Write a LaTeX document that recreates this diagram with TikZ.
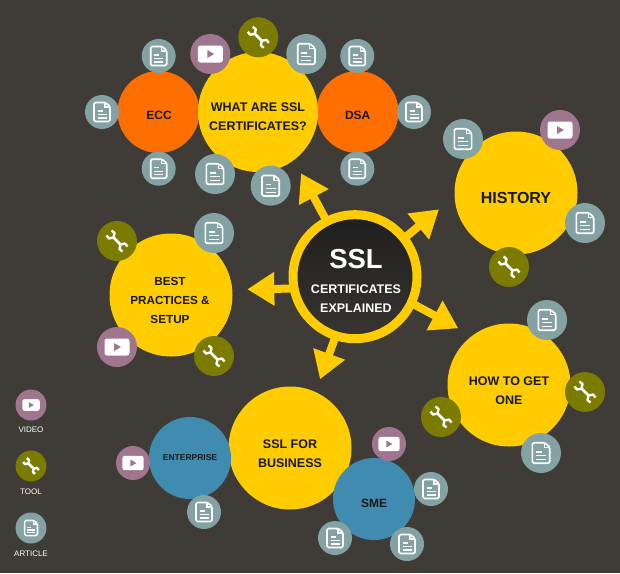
\documentclass[tikz,border=0pt]{standalone}
\usepackage{fontspec}
\setmainfont{Liberation Sans}
\usepackage{xcolor}
\usetikzlibrary{arrows.meta, shadings}

\definecolor{bgcolor}{HTML}{3F3B37}
\definecolor{topiccolor}{HTML}{FFCC00}
\definecolor{subcolor}{HTML}{FF6F00}
\definecolor{bluecolor}{HTML}{3F8CB0}
\definecolor{articlecolor}{HTML}{84A2A3}
\definecolor{videocolor}{HTML}{A0768F}
\definecolor{toolcolor}{HTML}{7B7B00}

\tikzset{
  disc/.style={circle, inner sep=0pt, outer sep=0pt},
  topic/.style={disc, fill=topiccolor, minimum size=#1},
  topic/.default=123,
  subtopic/.style={disc, fill=#1, minimum size=82},
  resource/.style={disc, fill=#1, minimum size=34},
  bigres/.style={disc, fill=#1, minimum size=40},
  legendres/.style={disc, fill=#1, minimum size=31},
  topictext/.style={font=\bfseries\fontsize{#1}{19}\selectfont, align=center, text=black!90, inner sep=0pt},
  topictext/.default=12.5,
  legendtext/.style={font=\fontsize{8}{9}\selectfont, text=white, inner sep=0pt},
  spoke/.style={topiccolor, line width=8, shorten <=-3, -{Triangle[length=27, width=32]}},
  pics/articleicon/.style={code={
    \draw[white, line width=1.7, line join=round, rounded corners=1.5]
      (-8,-9.5) -- (3.5,-9.5) -- (8,-5.5) -- (8,9.5) -- (-8,9.5) -- cycle;
    \draw[white, line width=1.2] (3,-9.5) -- (3,-5) -- (8,-5);
    \draw[white, line width=1.2] (-4.5,-1) -- (0.5,-1) (-4.5,2.5) -- (4.5,2.5) (-4.5,6) -- (4.5,6);
  }},
  pics/videoicon/.style={code={
    \fill[white, rounded corners=2.5] (-12.5,-8.5) rectangle (12.5,8.5);
    \fill[videocolor] (-3,-4) -- (4,0) -- (-3,4) -- cycle;
  }},
  pics/toolicon/.style={code={
    \draw[white, line width=2.6] (-3.5,-3.5) -- (3.5,3.5);
    \draw[white, line width=2.4, line join=round]
      (-10.5,-5.5) -- (-8,-2.5) -- (-3.5,-3.5) -- (-2.5,-8) -- (-5.5,-10.5)
      (10.5,5.5) -- (8,2.5) -- (3.5,3.5) -- (2.5,8) -- (5.5,10.5);
  }},
}

\begin{document}
\begin{tikzpicture}[x=1pt, y=-1pt]
\useasboundingbox (0,0) rectangle (620,573);
\fill[bgcolor] (0,0) rectangle (620,573);

% Hub and its arrows
\node[disc, minimum size=124, draw=topiccolor, line width=9, top color=black!88, bottom color=bgcolor!90!black] (hub) at (355,276.7) {};
\node[font=\bfseries\fontsize{27.5}{32}\selectfont, text=white, inner sep=0pt] (ssl) at (356,259) {SSL};
\node[font=\bfseries\fontsize{12.5}{19}\selectfont, text=white, align=center, inner sep=0pt] (explained) at (356,298.5) {CERTIFICATES\\EXPLAINED};
\coordinate (tipwhat) at (301,173.3);
\coordinate (tiphistory) at (439,209.3);
\coordinate (tipbest) at (247.3,289.3);
\coordinate (tiphow) at (458.3,328.3);
\coordinate (tipbusiness) at (320,379.3);
\draw[spoke] (hub.117) -- (tipwhat);
\draw[spoke] (hub.38) -- (tiphistory);
\draw[spoke] (hub.191) -- (tipbest);
\draw[spoke] (hub.-25) -- (tiphow);
\draw[spoke] (hub.-108) -- (tipbusiness);

% Topics
\node[subtopic=subcolor] (ecc) at (158.5,112) {};
\node[subtopic=subcolor] (dsa) at (357.5,112) {};
\node[topic=120] (what) at (258,112) {};
\node[topic] (history) at (516,193) {};
\node[topic] (best) at (171,295) {};
\node[topic] (how) at (509,385) {};
\node[topic] (business) at (290,448) {};
\node[subtopic=bluecolor] (enterprise) at (190,458) {};
\node[subtopic=bluecolor] (sme) at (374,499) {};

\node[topictext] (whattext) at (258,116.6) {WHAT ARE SSL\\CERTIFICATES?};
\node[topictext=12] (ecctext) at (159,115.7) {ECC};
\node[topictext=12] (dsatext) at (357.7,115.7) {DSA};
\node[topictext=16] (historytext) at (516,198) {HISTORY};
\node[topictext=11.7] (besttext) at (170,300) {BEST\\PRACTICES \&\\SETUP};
\node[topictext] (howtext) at (509,390.5) {HOW TO GET\\ONE};
\node[topictext=12.5] (businesstext) at (290,453.5) {SSL FOR\\BUSINESS};
\node[topictext=8.5] (enterprisetext) at (190,458) {ENTERPRISE};
\node[topictext=12] (smetext) at (374,503) {SME};

% Small resources
\foreach \nm/\px/\py in {ae/158.7/56, af/102/112, ag/158.7/168.7, ah/357.3/56, ai/414/112, aj/357.3/168.7, ak/204/512, al/431/489, am/335/538, an/407/544} {
  \node[resource=articlecolor] (\nm) at (\px,\py) {};
  \pic at (\nm) {articleicon};
}
\foreach \nm/\px/\py in {va/133/463, vb/389/444} {
  \node[resource=videocolor] (\nm) at (\px,\py) {};
  \pic[scale=0.85] at (\nm) {videoicon};
}

% Big resources
\foreach \nm/\px/\py in {ba/306.3/54, bb/215/174, bc/270.7/185.7, bd/463/139, be/585/223, bf/214/233, bg/547/320, bh/541/453} {
  \node[bigres=articlecolor] (\nm) at (\px,\py) {};
  \pic[scale=1.08] at (\nm) {articleicon};
}
\foreach \nm/\px/\py in {vc/210.3/54, vd/560/130, ve/117/347} {
  \node[bigres=videocolor] (\nm) at (\px,\py) {};
  \pic at (\nm) {videoicon};
}
\foreach \nm/\px/\py in {ta/258.3/37.3, tb/509/267, tc/117/241, td/214/356, te/585/392, tf/441/417} {
  \node[bigres=toolcolor] (\nm) at (\px,\py) {};
  \pic at (\nm) {toolicon};
}

% Legend
\node[legendres=videocolor] (legvideo) at (31,405) {};
\pic[scale=0.7] at (legvideo) {videoicon};
\node[legendres=toolcolor] (legtool) at (31,466) {};
\pic[scale=0.75] at (legtool) {toolicon};
\node[legendres=articlecolor] (legarticle) at (31,528) {};
\pic[scale=0.8] at (legarticle) {articleicon};
\node[legendtext] (videotext) at (31,430) {VIDEO};
\node[legendtext] (tooltext) at (31,492) {TOOL};
\node[legendtext] (articletext) at (31,554) {ARTICLE};
\end{tikzpicture}
\end{document}
